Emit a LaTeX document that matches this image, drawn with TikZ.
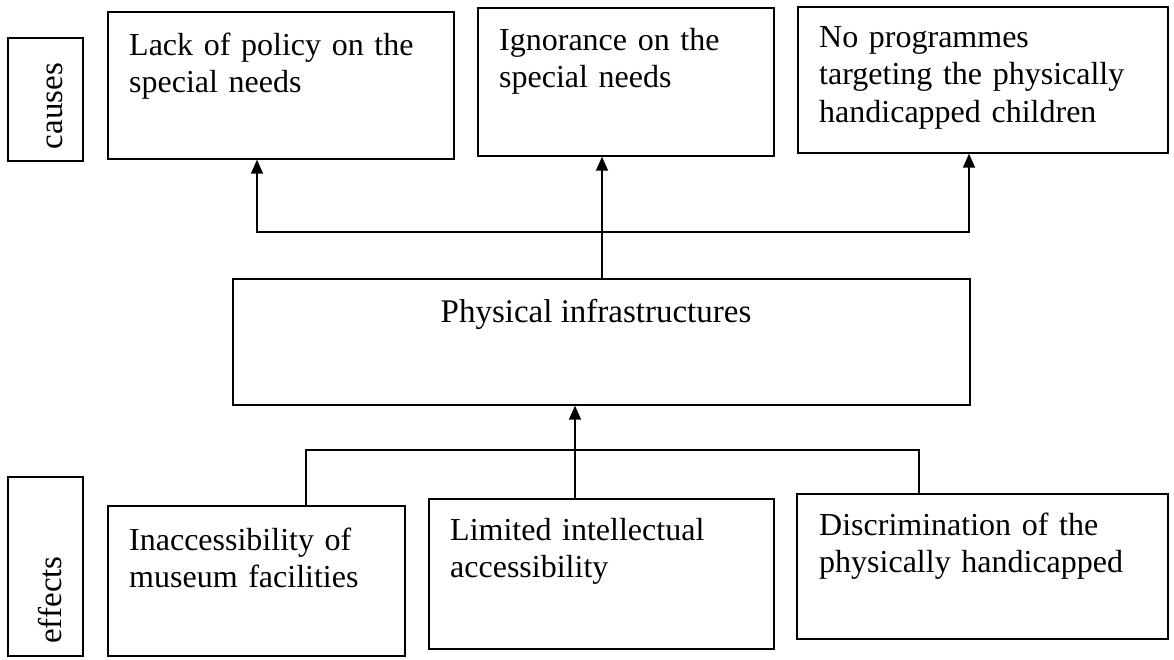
\documentclass[tikz,border=0pt]{standalone}
\usepackage{fontspec}
\setmainfont{Liberation Serif}
\usetikzlibrary{arrows.meta}
\newcommand{\boxfont}{\fontsize{32}{37.5}\selectfont}
\begin{document}
\begin{tikzpicture}[x=1pt,y=-1pt,
  box/.style={draw,line width=1.7pt,inner sep=0pt,anchor=north west},
  txt/.style={anchor=base west,inner sep=0pt,font=\boxfont,text width=420pt,align=left},
  side/.style={anchor=base,inner sep=0pt,rotate=90,font=\fontsize{33}{40}\selectfont},
  arr/.style={line width=1.7pt,-{Triangle[length=14pt,width=12pt]}},
  conn/.style={line width=1.7pt}]
\useasboundingbox (0,0) rectangle (1174,659);
% cause / effect labels
\node[box,minimum width=75pt,minimum height=123pt] (cb) at (7,37) {};
\node[side] (ct) at (62,106) {causes};
\node[box,minimum width=75pt,minimum height=179pt] (eb) at (7,476) {};
\node[side] (et) at (61,600) {effects};
% cause boxes
\node[box,minimum width=346pt,minimum height=147pt] (A) at (107,11) {};
\node[txt] (At) at (129,55) {Lack of policy on the\\special needs};
\node[box,minimum width=296pt,minimum height=148pt] (B) at (477,7) {};
\node[txt] (Bt) at (499,50) {Ignorance on the\\special needs};
\node[box,minimum width=370pt,minimum height=146pt] (C) at (797,6) {};
\node[txt] (Ct) at (819,47) {No programmes\\targeting the physically\\handicapped children};
% central box
\node[box,minimum width=737pt,minimum height=126pt] (P) at (232,278) {};
\node[anchor=base,inner sep=0pt,font=\fontsize{33}{37.5}\selectfont] (Pt) at (596,322) {Physical infrastructures};
% effect boxes
\node[box,minimum width=297pt,minimum height=150pt] (D) at (107,505) {};
\node[txt] (Dt) at (129,550) {Inaccessibility of\\museum facilities};
\node[box,minimum width=345pt,minimum height=150pt] (E) at (428,498) {};
\node[txt] (Et) at (450,540) {Limited intellectual\\accessibility};
\node[box,minimum width=371pt,minimum height=145pt] (F) at (796,493) {};
\node[txt] (Ft) at (819,535) {Discrimination of the\\physically handicapped};
% helper coordinates
\coordinate (xa) at (257,0);
\coordinate (xb) at (602,0);
\coordinate (xc) at (969,0);
\coordinate (yt) at (0,232);
\coordinate (xd) at (306,0);
\coordinate (xe) at (575,0);
\coordinate (xf) at (919,0);
\coordinate (yb) at (0,450);
% connectors upward to causes
\draw[arr] (P.north -| xb) -- (B.south -| xb);
\draw[arr] (xb |- yt) -| (A.south -| xa);
\draw[arr] (xb |- yt) -| (C.south -| xc);
% connectors from effects
\draw[arr] (E.north -| xe) -- (P.south -| xe);
\draw[conn] (D.north -| xd) |- (xe |- yb);
\draw[conn] (F.north -| xf) |- (xe |- yb);
\end{tikzpicture}
\end{document}
